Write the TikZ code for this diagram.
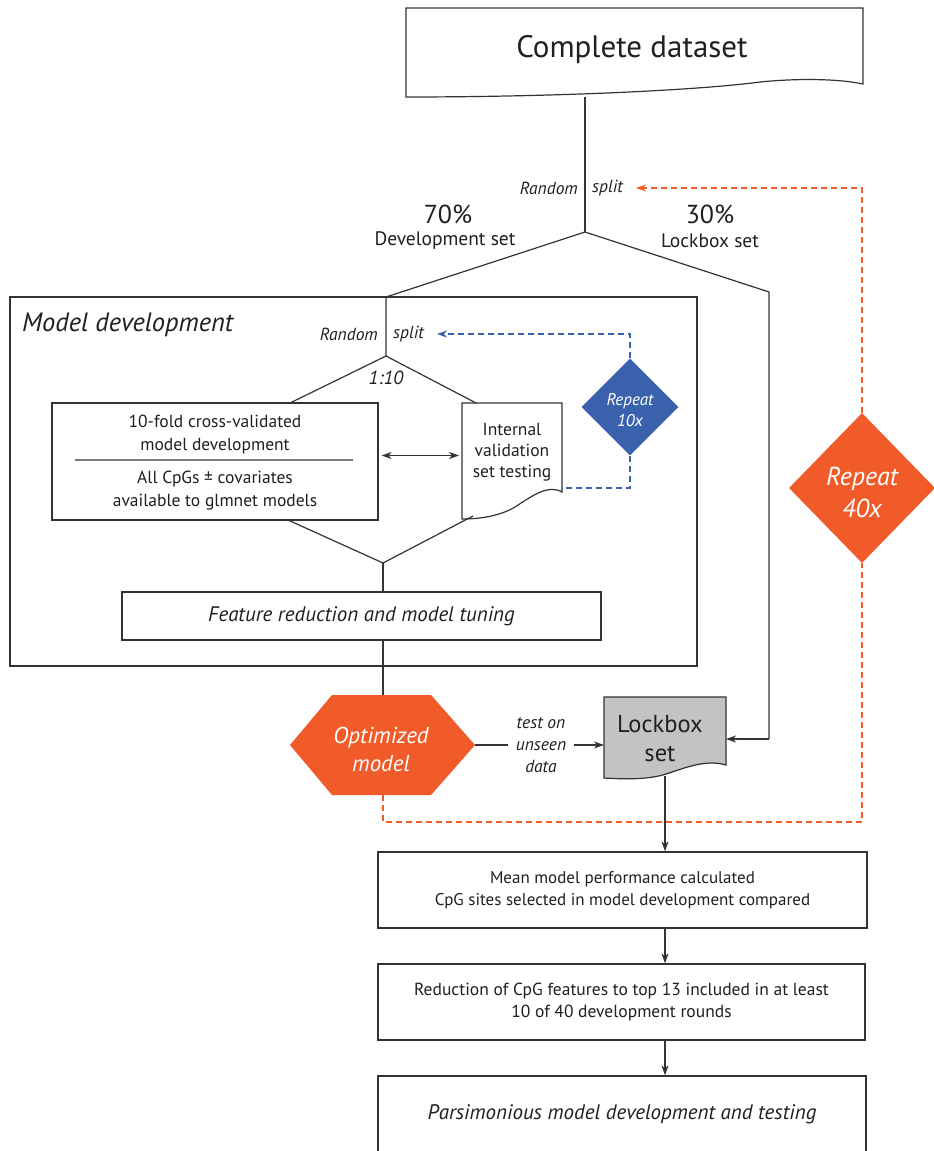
\documentclass[tikz,border=0pt]{standalone}
\usepackage{fontspec}
\setmainfont{PT Sans}
\usetikzlibrary{arrows.meta,shapes.geometric}
\definecolor{lineC}{HTML}{333333}
\definecolor{textC}{HTML}{231F20}
\definecolor{orangeC}{HTML}{F15A29}
\definecolor{blueC}{HTML}{3A62AC}
\definecolor{grayC}{HTML}{C3C3C3}
\definecolor{sepC}{HTML}{7A7A7A}
\begin{document}
\begin{tikzpicture}[x=1pt,y=-1pt,
  ln/.style={draw=lineC, line width=1.2pt},
  arr/.style={ln, -{Stealth[length=10pt,width=7pt,inset=3pt]}},
  darr/.style={ln, {Stealth[length=10pt,width=7pt,inset=3pt]}-{Stealth[length=10pt,width=7pt,inset=3pt]}},
  odash/.style={draw=orangeC, line width=1.3pt, dash pattern=on 6pt off 4pt},
  bdash/.style={draw=blueC, line width=1.3pt, dash pattern=on 6pt off 4pt},
  box/.style={draw=lineC, line width=1.2pt, inner sep=0pt, text=textC, align=center},
  ghost/.style={inner sep=0pt, outer sep=0pt},
  txt/.style={inner sep=0pt, text=textC, align=center},
  wtxt/.style={inner sep=0pt, text=white, align=center},
]
\useasboundingbox (0,0) rectangle (934,1151);
\fill[white] (0,0) rectangle (934,1151);

% ---------- Complete dataset (document shape) ----------
\node[ghost, minimum width=457pt, minimum height=89pt] (cd) at (634.5,52.5) {};
\draw[ln, fill=white] (406,8) -- (863,8) -- (863,84)
  .. controls (840,79) and (800,78) .. (760,82)
  .. controls (700,90) and (560,97) .. (406,97) -- cycle;
\node[txt, font=\fontsize{31pt}{36pt}\selectfont] (cdt) at (632,50) {Complete dataset};

% junctions
\coordinate (cdb) at (585,97);
\coordinate (sp1) at (585,232);
\coordinate (mdtop) at (386,297);
\coordinate (sp2) at (386,356);
\coordinate (rt) at (769,292);
\coordinate (mg) at (383,563);

% ---------- top split ----------
\node[txt, anchor=east, font=\fontsize{17.5pt}{20pt}\selectfont\itshape] (rs1) at (578,188) {Random};
\node[txt, anchor=west, font=\fontsize{17.5pt}{20pt}\selectfont\itshape] (rs2) at (592,188) {split};
\node[txt, font=\fontsize{26pt}{30pt}\selectfont] (p70) at (448,214) {70\%};
\node[txt, font=\fontsize{19.5pt}{22pt}\selectfont] (dev) at (445,241) {Development set};
\node[txt, font=\fontsize{26pt}{30pt}\selectfont] (p30) at (710,214) {30\%};
\node[txt, font=\fontsize{19.5pt}{22pt}\selectfont] (lbs) at (710,241) {Lockbox set};

% ---------- Model development frame ----------
\node[box, minimum width=687pt, minimum height=369pt] (md) at (353.5,481.5) {};
\node[txt, anchor=west, font=\fontsize{26.5pt}{30pt}\selectfont\itshape] (mdt) at (22,325) {Model development};
\node[txt, anchor=east, font=\fontsize{17.5pt}{20pt}\selectfont\itshape] (rs3) at (378,334) {Random};
\node[txt, anchor=west, font=\fontsize{17.5pt}{20pt}\selectfont\itshape] (rs4) at (393,334) {split};
\node[txt, font=\fontsize{19pt}{22pt}\selectfont\itshape] (ratio) at (386,378) {1:10};

% 10-fold CV box
\node[box, minimum width=326pt, minimum height=117pt] (cv) at (215,461.5) {};
\node[txt, font=\fontsize{17.5pt}{23pt}\selectfont] (cvt1) at (215,435) {10-fold cross-validated\\model development};
\draw[sepC, line width=1.1pt] (75,460) -- (353,460);
\node[txt, font=\fontsize{17.5pt}{23pt}\selectfont] (cvt2) at (215,491) {All CpGs ± covariates\\available to glmnet models};

% internal validation (document shape)
\node[ghost, minimum width=100pt, minimum height=116pt] (ivs) at (512,461) {};
\draw[ln, fill=white] (462,403) -- (562,403) -- (562,492)
  .. controls (548,484) and (532,496) .. (515,507)
  .. controls (500,516) and (480,519) .. (462,519) -- cycle;
\node[txt, font=\fontsize{17.5pt}{21pt}\selectfont] (ivst) at (512,452) {Internal\\validation\\set testing};
\coordinate (ivr) at (562,488);
\coordinate (ivb) at (473,516);

% repeat 10x
\node[diamond, fill=blueC, inner sep=0pt, minimum width=97pt, minimum height=97pt] (r10) at (630,407) {};
\node[wtxt, font=\fontsize{17pt}{21pt}\selectfont\itshape] (r10t) at (630,410) {Repeat\\10x};

% feature reduction
\node[box, minimum width=479pt, minimum height=48pt, font=\fontsize{21pt}{24pt}\selectfont\itshape] (feat) at (361.5,616) {Feature reduction and model tuning};

% ---------- Optimized model hexagon ----------
\node[ghost, minimum width=185pt, minimum height=100pt] (opt) at (382.5,745) {};
\fill[orangeC] (290,745) -- (332,695) -- (431,695) -- (475,745) -- (431,795) -- (332,795) -- cycle;
\node[wtxt, font=\fontsize{23pt}{28pt}\selectfont\itshape] (optt) at (381,749) {Optimized\\model};
\node[txt, inner xsep=8pt, font=\fontsize{17.5pt}{22pt}\selectfont\itshape] (test) at (541,745) {test on\\unseen\\data};

% ---------- Lockbox (document shape) ----------
\node[ghost, minimum width=122pt, minimum height=84pt] (lock) at (665,739) {};
\draw[ln, fill=grayC] (604,697) -- (726,697) -- (726,765)
  .. controls (705,759) and (685,768) .. (663,775)
  .. controls (643,780) and (622,779) .. (604,778) -- cycle;
\node[txt, font=\fontsize{24.5pt}{29pt}\selectfont] (lockt) at (660,739) {Lockbox\\set};
\coordinate (lb) at (665,776);

% ---------- Repeat 40x ----------
\node[diamond, fill=orangeC, inner sep=0pt, minimum width=146pt, minimum height=150pt] (r40) at (862,488) {};
\node[wtxt, font=\fontsize{26pt}{32pt}\selectfont\itshape] (r40t) at (862,492) {Repeat\\40x};

% ---------- bottom boxes ----------
\node[box, minimum width=489pt, minimum height=76pt, font=\fontsize{17pt}{22pt}\selectfont] (mean) at (622.5,890) {Mean model performance calculated\\CpG sites selected in model development compared};
\node[box, minimum width=487pt, minimum height=76pt, font=\fontsize{17.5pt}{22pt}\selectfont] (red) at (621.5,1002) {Reduction of CpG features to top 13 included in at least\\10 of 40 development rounds};
\node[box, minimum width=488pt, minimum height=100pt] (pars) at (622,1126) {};
\node[txt, font=\fontsize{21pt}{24pt}\selectfont\itshape] (parst) at (622,1114) {Parsimonious model development and testing};

% ---------- connectors ----------
\draw[ln] (cdb) -- (sp1);
\draw[ln] (sp1) -- (mdtop) -- (sp2);
\draw[ln] (sp1) -- (rt) -- (rt |- lock.east);
\draw[arr] (rt |- lock.east) -- (lock.east);
\draw[ln] (sp2) -- (290,403);
\draw[ln] (sp2) -- (476,403);
\draw[darr, shorten <=3pt, shorten >=3pt] ([yshift=6pt]cv.east) -- ([yshift=6pt]cv.east -| ivs.west);
\draw[ln] (288,520) -- (mg);
\draw[ln] (ivb) -- (mg);
\draw[ln] (mg) -- (mg |- feat.north);
\draw[ln] (mg |- feat.south) -- (opt.north -| mg);
\draw[ln] (opt.east) -- (test.west);
\draw[arr] (test.east) -- (test.east -| lock.west);
\draw[arr] (lb) -- (lb |- mean.north);
\draw[arr] (lb |- mean.south) -- (lb |- red.north);
\draw[arr] (lb |- red.south) -- (lb |- pars.north);

% dashed loops
\draw[odash] (opt.south -| mg) -- (mg |- 0,822) -- (r40.south |- 0,822) -- (r40.south);
\draw[odash, -{Stealth[length=10pt,width=7pt,inset=3pt]}] (r40.north) -- (r40.north |- rs2.east) -- ([xshift=13pt]rs2.east);
\draw[bdash, -{Stealth[length=10pt,width=7pt,inset=3pt]}] (r10.north) -- (r10.north |- rs4.east) -- ([xshift=13pt]rs4.east);
\draw[bdash] (r10.south) -- (r10.south |- ivr) -- (ivr);
\end{tikzpicture}
\end{document}
